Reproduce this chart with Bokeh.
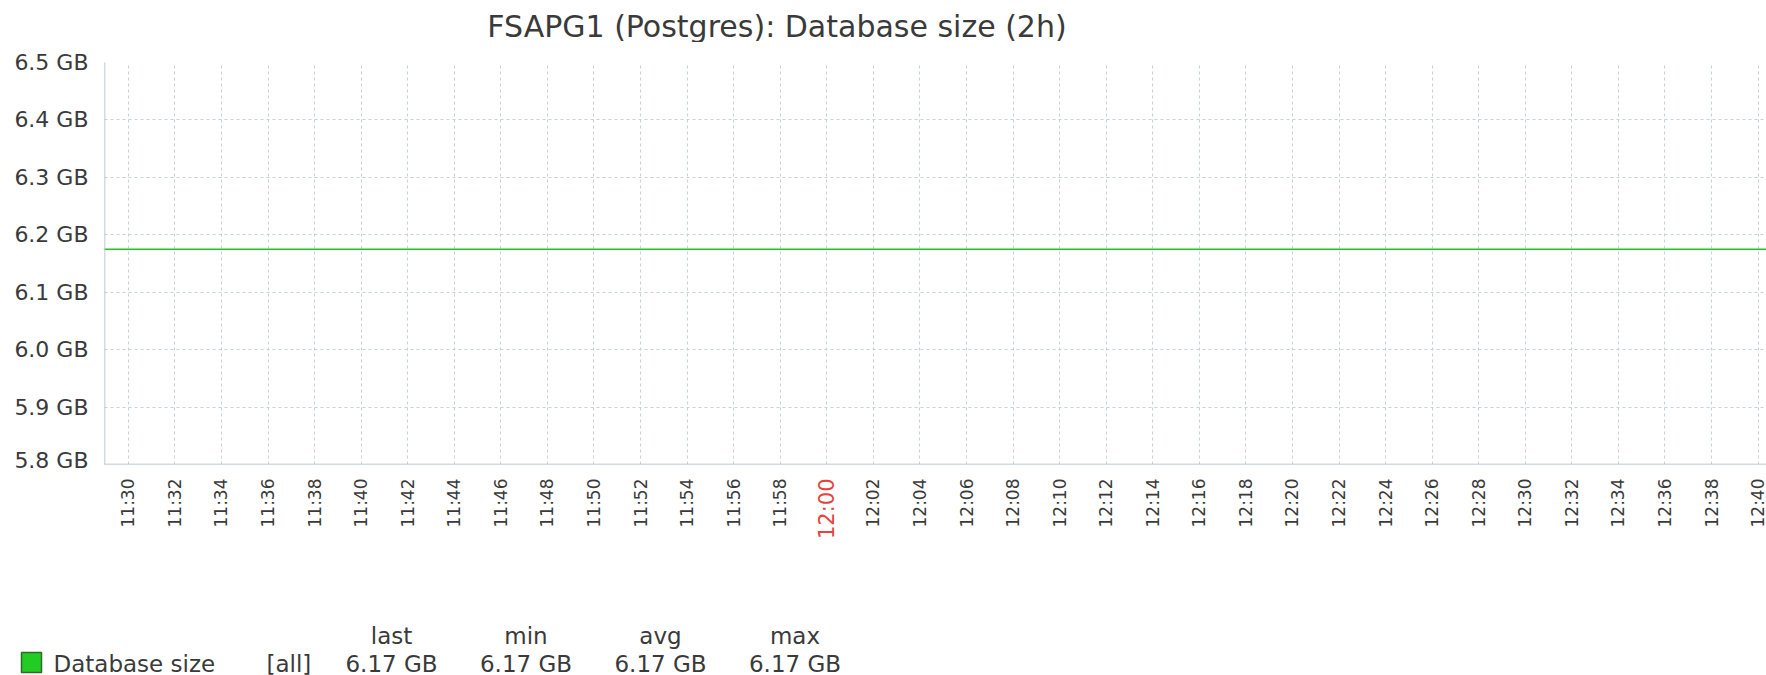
import math
from bokeh.plotting import figure
from bokeh.layouts import column
from bokeh.core.properties import value
from bokeh.models import (Range1d, FixedTicker, PrintfTickFormatter, Arrow,
                          Grid, ColumnDataSource)
from bokeh.embed import file_html
from bokeh.resources import INLINE

# ---------------- data ----------------
chart_title = "FSAPG1 (Postgres): Database size (2h)"
series_name = "Database size"
series_scope = "[all]"

# sampled times (HH:MM) and database size values (GB)
sample_times = ["11:28", "11:35", "11:45", "11:55", "12:05", "12:15", "12:25", "12:35", "12:41"]
sample_values = [6.175, 6.175, 6.175, 6.175, 6.175, 6.175, 6.175, 6.175, 6.175]

tick_labels = ["11:30", "11:32", "11:34", "11:36", "11:38", "11:40", "11:42", "11:44",
               "11:46", "11:48", "11:50", "11:52", "11:54", "11:56", "11:58", "12:00",
               "12:02", "12:04", "12:06", "12:08", "12:10", "12:12", "12:14", "12:16",
               "12:18", "12:20", "12:22", "12:24", "12:26", "12:28", "12:30", "12:32",
               "12:34", "12:36", "12:38", "12:40"]
highlight_tick = "12:00"
y_ticks = [5.8, 5.9, 6.0, 6.1, 6.2, 6.3, 6.4, 6.5]

legend_headers = ["last", "min", "avg", "max"]
legend_values = [6.17, 6.17, 6.17, 6.17]


def to_min(hhmm):
    h, m = hhmm.split(":")
    return int(h) * 60 + int(m)


xs = [to_min(t) for t in sample_times]
tick_pos = [to_min(t) for t in tick_labels]

# ---------------- styles ----------------
AXIS = "#a9b6c2"
GRID = "#c9d1d8"
TEXT = "#3a3a3a"
LINE = "#1ec81e"
RED = "#e8403a"
FONT = "DejaVu Sans"
W = 1766
TOP = 42  # height of the title strip


def blank(fig):
    fig.outline_line_color = None
    fig.background_fill_color = "white"
    fig.border_fill_color = "white"


# ================= title strip =================
ph = figure(width=W, height=TOP, x_range=Range1d(0, W), y_range=Range1d(TOP, 0),
            x_axis_type=None, y_axis_type=None, title=None,
            output_backend="svg", toolbar_location=None,
            min_border_left=0, min_border_right=0, min_border_top=0, min_border_bottom=0)
ph.frame_align = False
blank(ph)
ph.grid.visible = False
ph.text(x=[776.5], y=[25.5], text=[chart_title], text_align="center", text_baseline="middle",
        text_font=value(FONT), text_font_size="30px", text_color=TEXT)

# ================= main plot =================
p = figure(width=W, height=472 - TOP,
           x_range=Range1d(688.977, 760.36), y_range=Range1d(5.8, 6.5),
           x_axis_type=None, title=None,
           output_backend="svg", toolbar_location=None,
           min_border_left=104, min_border_right=0, min_border_top=62 - TOP,
           min_border_bottom=8)
blank(p)

# grids
p.ygrid.grid_line_color = GRID
p.ygrid.grid_line_dash = "3 3"
p.add_layout(Grid(dimension=0, ticker=FixedTicker(ticks=tick_pos, minor_ticks=[]),
                  grid_line_color=GRID, grid_line_dash="3 3"))

# y axis
p.yaxis.ticker = FixedTicker(ticks=y_ticks, minor_ticks=[])
p.yaxis.formatter = PrintfTickFormatter(format="%.1f GB")
p.yaxis.major_label_text_font = FONT
p.yaxis.major_label_text_font_size = "22px"
p.yaxis.major_label_text_color = TEXT
p.yaxis.major_tick_in = 0
p.yaxis.major_tick_out = 0
p.yaxis.minor_tick_line_color = None
p.yaxis.major_label_standoff = 16
p.yaxis.axis_line_color = None

# data line
p.line(x=xs, y=sample_values, line_color=LINE, line_width=1.5)


def seg(x0, y0, x1, y1):
    p.add_layout(Arrow(x_start=x0, y_start=y0, x_end=x1, y_end=y1,
                       start_units="screen", end_units="screen",
                       line_color=AXIS, line_width=1.5, end=None))


# x axis line (slightly extended to the left)
seg(-7, 0, W - 104, 0)
# y axis line with an open triangular arrow head
seg(0, -7, 0, 410)
seg(-5, 410, 0, 421)
seg(0, 421, 5, 410)
seg(5, 410, -5, 410)

# ================= time tick labels =================
pt = figure(width=W, height=74, x_range=p.x_range, y_range=Range1d(74, 0),
            x_axis_type=None, y_axis_type=None, title=None,
            output_backend="svg", toolbar_location=None,
            min_border_left=104, min_border_right=0, min_border_top=0, min_border_bottom=0)
blank(pt)
pt.grid.visible = False
tick_src = ColumnDataSource(dict(
    x=tick_pos,
    text=tick_labels,
    color=[RED if t == highlight_tick else TEXT for t in tick_labels],
    size=["21px" if t == highlight_tick else "17px" for t in tick_labels],
))
pt.text(x="x", y=6, text="text", source=tick_src, angle=math.pi / 2,
        text_align="right", text_baseline="middle", text_color="color",
        text_font_size="size", text_font=value(FONT))

# ================= legend =================
pl = figure(width=W, height=129, x_range=Range1d(0, W), y_range=Range1d(675, 546),
            x_axis_type=None, y_axis_type=None, title=None,
            output_backend="svg", toolbar_location=None,
            min_border_left=0, min_border_right=0, min_border_top=0, min_border_bottom=0)
pl.frame_align = False
blank(pl)
pl.grid.visible = False

pl.quad(left=21, right=41, top=652, bottom=672, fill_color="#22cc22",
        line_color="#2b6b2b", line_width=1.5)
HEAD_Y = 635
ROW_Y = 663
pl.text(x=[53, 266], y=ROW_Y, text=[series_name, series_scope],
        text_align="left", text_baseline="middle",
        text_font=value(FONT), text_font_size="23px", text_color=TEXT)
col_x = [391, 525.5, 660, 794.5]
pl.text(x=col_x, y=HEAD_Y, text=legend_headers,
        text_align="center", text_baseline="middle",
        text_font=value(FONT), text_font_size="23px", text_color=TEXT)
pl.text(x=col_x, y=ROW_Y, text=[f"{v:.2f} GB" for v in legend_values],
        text_align="center", text_baseline="middle",
        text_font=value(FONT), text_font_size="23px", text_color=TEXT)

layout = column(ph, p, pt, pl, spacing=0)
open("out.html", "w").write(file_html(layout, INLINE))
